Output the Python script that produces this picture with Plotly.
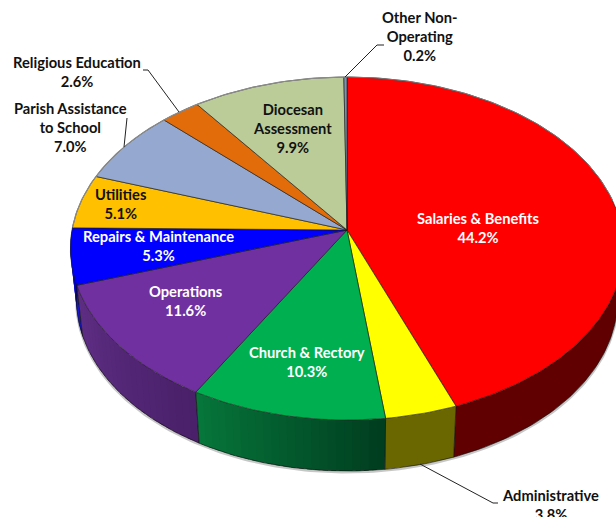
import math
import plotly.graph_objects as go

categories = ["Salaries & Benefits", "Administrative", "Church & Rectory", "Operations",
              "Repairs & Maintenance", "Utilities", "Parish Assistance to School",
              "Religious Education", "Diocesan Assessment", "Other Non-Operating"]
shares = [44.2, 3.8, 10.3, 11.6, 5.3, 5.1, 7.0, 2.6, 9.9, 0.2]
top_colors = ["#FF0000", "#FFFF00", "#00B050", "#7030A0", "#0000FF",
              "#FFC000", "#95A9D0", "#E36C0A", "#BBCC99", "#7F93B0"]
wall_left = {0: (96, 0, 0), 1: (107, 103, 0), 2: (6, 118, 58), 3: (94, 46, 132), 4: (0, 0, 170)}
wall_right = {0: (96, 0, 0), 1: (107, 103, 0), 2: (0, 62, 32), 3: (74, 32, 106), 4: (0, 0, 210)}

label_lines = [
    ("Other Non-<br>Operating<br>0.2%", 419, 36, "#111111"),
    ("Religious Education<br>2.6%", 77, 71, "#111111"),
    ("Parish Assistance<br>to School<br>7.0%", 70, 127, "#111111"),
    ("Utilities<br>5.1%", 120, 203, "#111111"),
    ("Repairs & Maintenance<br>5.3%", 158, 245, "#FFFFFF"),
    ("Operations<br>11.6%", 185, 300, "#FFFFFF"),
    ("Church & Rectory<br>10.3%", 307, 361, "#FFFFFF"),
    ("Salaries & Benefits<br>44.2%", 478, 227, "#FFFFFF"),
    ("Diocesan<br>Assessment<br>9.9%", 292, 128, "#111111"),
    ("Administrative<br>3.8%", 550, 504, "#111111"),
]
leaders = [
    ([143, 148, 179], [70, 70, 112], ),
    ([127, 124], [118, 147]),
    ([384, 377, 345], [45, 45, 77]),
    ([498, 493, 420], [503, 503, 464]),
]

CX, CY, A, B, K = 347, 230, 275, 169.5, 0.108
A2, DY = 269, 51


def top(theta):
    t = math.radians(theta)
    u, v = math.sin(t), math.cos(t)
    d = 1 + K * v
    return CX + A * u / d, CY - B * v / d


def bottom(theta):
    t = math.radians(theta)
    u, v = math.sin(t), math.cos(t)
    d = 1 + K * v
    return CX + A2 * u / d, CY + DY - B * v / d


def arc(fn, a, b, step=1.0):
    n = max(2, int(abs(b - a) / step) + 1)
    pts = [fn(a + (b - a) * i / (n - 1)) for i in range(n)]
    return [p[0] for p in pts], [p[1] for p in pts]


edges = [0]
for s in shares:
    edges.append(edges[-1] + s * 3.6 * 100 / sum(shares))

fig = go.Figure()


def poly(x, y, fill, line="rgba(0,0,0,0)", width=0):
    fig.add_trace(go.Scatter(x=x, y=y, mode="lines", fill="toself", fillcolor=fill,
                             line=dict(color=line, width=width), hoverinfo="skip",
                             showlegend=False))


def stroke(x, y, color, width):
    fig.add_trace(go.Scatter(x=x, y=y, mode="lines", line=dict(color=color, width=width),
                             hoverinfo="skip", showlegend=False))


# soft shadow below the base
sx, sy = arc(bottom, 90, 271)
stroke(sx, [v + 1.2 for v in sy], "rgba(0,0,0,0.22)", 2.5)

# walls, back to front
for i in [4, 0, 1, 3, 2]:
    a, b = max(edges[i], 90), min(edges[i + 1], 271)
    left, right = wall_left[i], wall_right[i]
    n = 1 if left == right else 24
    for k in range(n):
        a1 = a + (b - a) * k / n
        # overlap into the following slice so no seams show
        b1 = a + (b - a) * min(n, k + 1.6) / n
        frac = k / max(1, n - 1)
        # left/right are screen sides; angle grows from right to left
        c = [round(right[j] + (left[j] - right[j]) * frac) for j in range(3)]
        color = f"rgb({c[0]},{c[1]},{c[2]})"
        tx, ty = arc(top, a1, b1)
        bx, by = arc(bottom, b1, a1)
        poly(tx + bx, ty + by, color)
    # wedge-edge vertical seams
    for e in (a, b):
        if 91 < e < 270:
            p, q = top(e), bottom(e)
            stroke([p[0], q[0]], [p[1], q[1]], "rgba(20,20,20,0.8)", 0.8)
    bx, by = arc(bottom, a, b)
    stroke(bx, by, "rgba(10,10,10,0.75)", 0.8)

# top faces
for i in range(len(shares)):
    ax, ay = arc(top, edges[i], edges[i + 1])
    poly([CX] + ax + [CX], [CY] + ay + [CY], top_colors[i], "rgba(25,25,25,0.8)", 0.8)

# grey back rim
rx, ry = arc(top, 271, 360)
stroke(rx, ry, "#8A8A8A", 1.2)
rx, ry = arc(top, 0, 80)
stroke(rx, ry, "#777777", 1.0)

# leader lines
for lx, ly in leaders:
    stroke(lx, ly, "#222222", 1)

for text, x, y, color in label_lines:
    fig.add_annotation(x=x, y=y, xref="x", yref="y", text=text, showarrow=False,
                       xanchor="center", yanchor="middle", align="center",
                       font=dict(family="Lato", size=14.7, color=color, weight="bold"))

fig.update_layout(width=616, height=517, margin=dict(l=0, r=0, t=0, b=0),
                  paper_bgcolor="white", plot_bgcolor="white", showlegend=False,
                  xaxis=dict(range=[0, 616], visible=False, fixedrange=True),
                  yaxis=dict(range=[517, 0], visible=False, fixedrange=True))
fig.write_html("out.html", config={"displayModeBar": False},
               post_script="document.body.style.margin='0';document.documentElement.style.overflow='hidden';")
